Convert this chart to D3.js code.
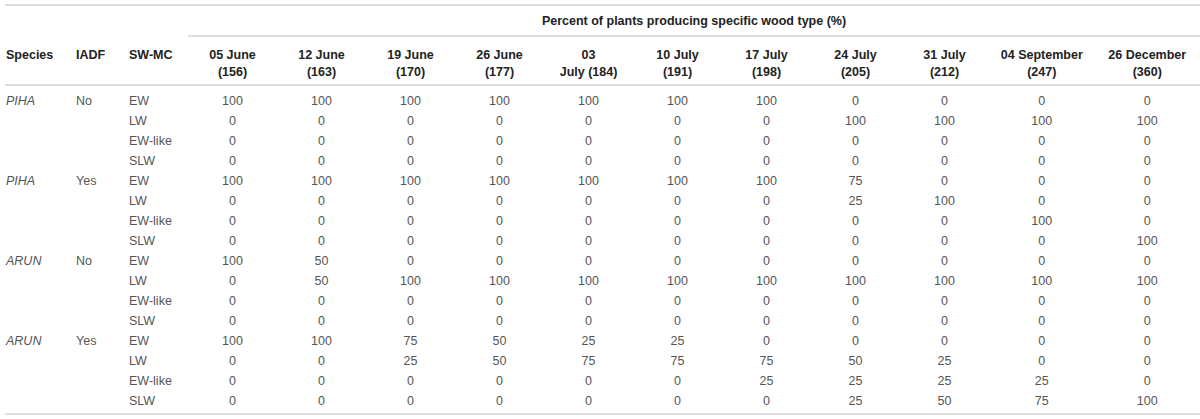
<!DOCTYPE html>
<html>
<head>
<meta charset="utf-8">
<script src="https://cdn.jsdelivr.net/npm/d3@7"></script>
<style>
  body { margin: 0; background: #fff; }
  .head { font-family: "Liberation Sans", Arial, sans-serif; font-weight: bold; font-size: 12.5px; fill: #222; }
  .cell { font-family: "Liberation Sans", Arial, sans-serif; font-size: 12.5px; fill: #555; }
  .rule { stroke: #dedede; stroke-width: 2; }
</style>
</head>
<body>
<div class="container"></div>
<script>
var width = 1200;
var height = 419;

var title = 'Percent of plants producing specific wood type (%)';
var leftHeads = ['Species', 'IADF', 'SW-MC'];
var dateLine1 = ['05 June', '12 June', '19 June', '26 June', '03', '10 July', '17 July', '24 July', '31 July', '04 September', '26 December'];
var dateLine2 = ['(156)', '(163)', '(170)', '(177)', 'July (184)', '(191)', '(198)', '(205)', '(212)', '(247)', '(360)'];

var species = ['PIHA', 'PIHA', 'ARUN', 'ARUN'];
var iadf = ['No', 'Yes', 'No', 'Yes'];
var woodTypes = ['EW', 'LW', 'EW-like', 'SLW'];

var pihaNo = [
  [100, 100, 100, 100, 100, 100, 100, 0, 0, 0, 0],
  [0, 0, 0, 0, 0, 0, 0, 100, 100, 100, 100],
  [0, 0, 0, 0, 0, 0, 0, 0, 0, 0, 0],
  [0, 0, 0, 0, 0, 0, 0, 0, 0, 0, 0]
];
var pihaYes = [
  [100, 100, 100, 100, 100, 100, 100, 75, 0, 0, 0],
  [0, 0, 0, 0, 0, 0, 0, 25, 100, 0, 0],
  [0, 0, 0, 0, 0, 0, 0, 0, 0, 100, 0],
  [0, 0, 0, 0, 0, 0, 0, 0, 0, 0, 100]
];
var arunNo = [
  [100, 50, 0, 0, 0, 0, 0, 0, 0, 0, 0],
  [0, 50, 100, 100, 100, 100, 100, 100, 100, 100, 100],
  [0, 0, 0, 0, 0, 0, 0, 0, 0, 0, 0],
  [0, 0, 0, 0, 0, 0, 0, 0, 0, 0, 0]
];
var arunYes = [
  [100, 100, 75, 50, 25, 25, 0, 0, 0, 0, 0],
  [0, 0, 25, 50, 75, 75, 75, 50, 25, 0, 0],
  [0, 0, 0, 0, 0, 0, 25, 25, 25, 25, 0],
  [0, 0, 0, 0, 0, 0, 0, 25, 50, 75, 100]
];
var groups = [pihaNo, pihaYes, arunNo, arunYes];

// column widths: the two last date columns are wider
var colWeights = [1, 1, 1, 1, 1, 1, 1, 1, 1, 1.185, 1.185];
var leftX = [6, 76, 129];

var draw = function() {
  var svg = d3.select('.container').append('svg')
    .attr('width', width)
    .attr('height', height);

  // flat row list
  var rows = [];
  groups.forEach(function(g, gi) {
    g.forEach(function(vals, ri) {
      rows.push({ sp: ri === 0 ? species[gi] : '', iadf: ri === 0 ? iadf[gi] : '', wood: woodTypes[ri], vals: vals });
    });
  });

  var edges = [0].concat(Array.from(d3.cumsum(colWeights)));
  var X = d3.scaleLinear().domain([0, d3.sum(colWeights)]).range([188, 1200]);
  var colCenter = function(i) { return (X(edges[i]) + X(edges[i + 1])) / 2; };

  var Y = d3.scaleBand()
    .domain(d3.range(rows.length))
    .range([91, 411]);

  // rules
  var rules = [[5, 1200, 5], [188, 1200, 36], [5, 1200, 85], [5, 1200, 414]];
  svg.selectAll('line.rule').data(rules).enter()
    .append('line').classed('rule', true)
    .attr('x1', function(d) { return d[0]; })
    .attr('x2', function(d) { return d[1]; })
    .attr('y1', function(d) { return d[2]; })
    .attr('y2', function(d) { return d[2]; });

  svg.append('text').classed('head', true)
    .attr('x', (X.range()[0] + X.range()[1]) / 2)
    .attr('y', 21)
    .attr('dy', '0.35em')
    .attr('text-anchor', 'middle')
    .text(title);

  svg.selectAll('text.lh').data(leftHeads).enter()
    .append('text').attr('class', 'head lh')
    .attr('x', function(d, i) { return leftX[i]; })
    .attr('y', 55)
    .attr('dy', '0.35em')
    .text(function(d) { return d; });

  var dh = svg.selectAll('g.dh').data(dateLine1).enter()
    .append('g').attr('class', 'dh')
    .attr('transform', function(d, i) { return 'translate(' + colCenter(i) + ',0)'; });
  dh.append('text').classed('head', true)
    .attr('y', 55).attr('dy', '0.35em').attr('text-anchor', 'middle')
    .text(function(d) { return d; });
  dh.append('text').classed('head', true)
    .attr('y', 72).attr('dy', '0.35em').attr('text-anchor', 'middle')
    .text(function(d, i) { return dateLine2[i]; });

  var row = svg.selectAll('g.row').data(rows).enter()
    .append('g').attr('class', 'row')
    .attr('transform', function(d, i) { return 'translate(0,' + (Y(i) + Y.bandwidth() / 2) + ')'; });

  row.append('text').classed('cell', true)
    .attr('x', leftX[0]).attr('dy', '0.35em')
    .style('font-style', 'italic')
    .text(function(d) { return d.sp; });
  row.append('text').classed('cell', true)
    .attr('x', leftX[1]).attr('dy', '0.35em')
    .text(function(d) { return d.iadf; });
  row.append('text').classed('cell', true)
    .attr('x', leftX[2]).attr('dy', '0.35em')
    .text(function(d) { return d.wood; });

  row.selectAll('text.v').data(function(d) { return d.vals; }).enter()
    .append('text').attr('class', 'cell v')
    .attr('x', function(d, i) { return colCenter(i); })
    .attr('dy', '0.35em')
    .attr('text-anchor', 'middle')
    .text(function(d) { return d; });
};

window.onload = draw;
</script>
</body>
</html>
